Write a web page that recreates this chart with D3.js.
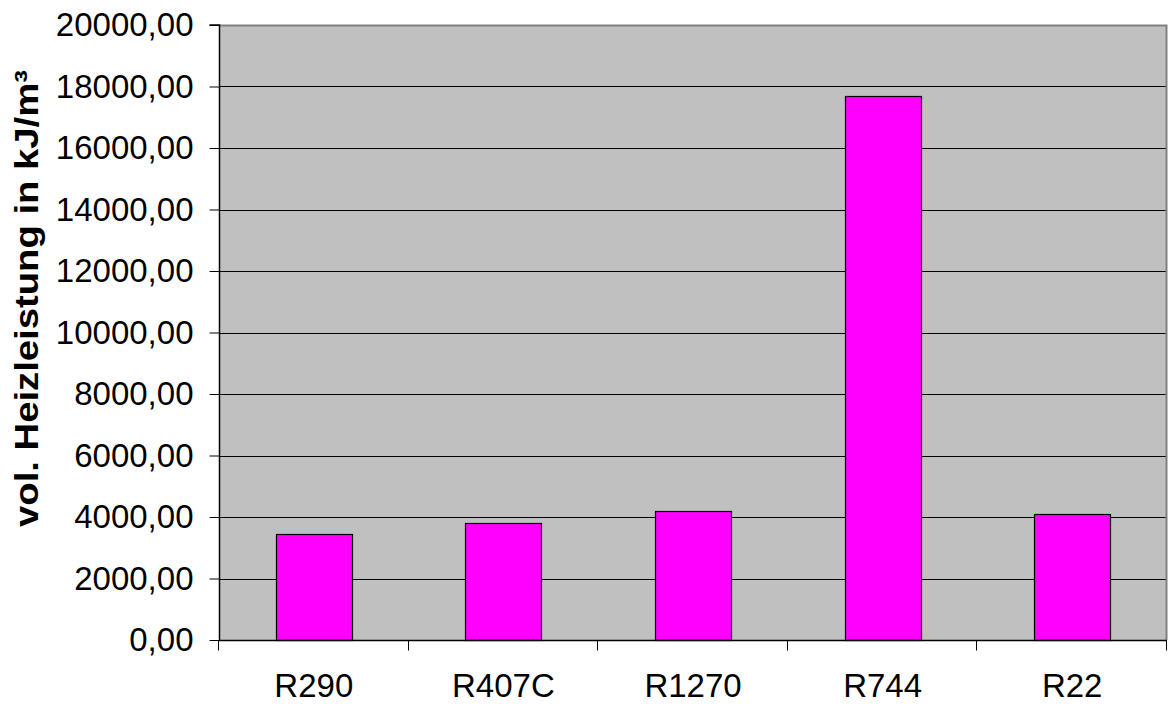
<!DOCTYPE html>
<html>
<head>
<meta charset="utf-8">
<script src="https://cdn.jsdelivr.net/npm/d3@7"></script>
<style>
  html, body { margin: 0; padding: 0; background: #ffffff; }
  svg { display: block; }
  text { font-family: "Liberation Sans", Arial, sans-serif; fill: #000; }
</style>
</head>
<body>
<svg id="chart" width="1168" height="704"></svg>
<script>
// Refrigerants compared by volumetric heating capacity
const categories = ["R290", "R407C", "R1270", "R744", "R22"];
const heatingCapacity = [3460, 3795, 4205, 17700, 4090];
const yTicks = [0, 2000, 4000, 6000, 8000, 10000, 12000, 14000, 16000, 18000, 20000];
const yLabel = "vol. Heizleistung in kJ/m³";

const W = 1168, H = 704;
const plot = { left: 219, right: 1167, top: 25, bottom: 640 };

const svg = d3.select("#chart");

// German number format: decimal comma, no grouping
const deFormat = d3.formatLocale({ decimal: ",", thousands: "", grouping: [3], currency: ["", " €"] }).format(".2f");

const x = d3.scaleBand()
  .domain(categories)
  .range([plot.left, plot.right])
  .paddingInner(0)
  .paddingOuter(0);

const y = d3.scaleLinear()
  .domain([0, 20000])
  .range([plot.bottom, plot.top]);

// plot background
svg.append("rect")
  .attr("x", plot.left).attr("y", plot.top)
  .attr("width", plot.right - plot.left)
  .attr("height", plot.bottom - plot.top)
  .attr("fill", "#c0c0c0");

// horizontal gridlines
svg.append("g")
  .selectAll("line")
  .data(yTicks.filter(d => d > 0 && d < 20000))
  .join("line")
  .attr("x1", plot.left).attr("x2", plot.right)
  .attr("y1", d => Math.round(y(d)) + 0.5)
  .attr("y2", d => Math.round(y(d)) + 0.5)
  .attr("stroke", "#000")
  .attr("stroke-width", 1);

// plot frame (top and right in grey)
svg.append("path")
  .attr("d", `M${plot.left},${plot.top + 0.5}H${plot.right - 0.5}V${plot.bottom}`)
  .attr("fill", "none")
  .attr("stroke", "#808080")
  .attr("stroke-width", 2);

// bars
svg.append("g")
  .selectAll("rect")
  .data(categories.map((c, i) => ({ c, v: heatingCapacity[i] })))
  .join("rect")
  .attr("x", d => Math.round(x(d.c) + x.bandwidth() * 0.3) + 0.5)
  .attr("width", Math.round(x.bandwidth() * 0.4))
  .attr("y", d => Math.round(y(d.v)) + 0.5)
  .attr("height", d => Math.round(y(0)) - Math.round(y(d.v)))
  .attr("fill", "#ff00ff")
  .attr("stroke", "#000")
  .attr("stroke-width", 1.2);

// y axis
const yAxis = d3.axisLeft(y)
  .tickValues(yTicks)
  .tickSize(10)
  .tickPadding(16)
  .tickFormat(deFormat);

const gy = svg.append("g")
  .attr("transform", `translate(${plot.left + 0.5},0)`)
  .call(yAxis);
gy.select(".domain").attr("stroke", "#000").attr("stroke-width", 1.5)
  .attr("d", `M-10,${plot.top}H0V${plot.bottom}`);
gy.selectAll(".tick line").attr("stroke", "#000");
gy.selectAll(".tick text")
  .attr("font-size", 33)
  .attr("font-family", "'Liberation Sans', Arial, sans-serif")
  .attr("fill", "#000");

// x axis: ticks at category boundaries
const gx = svg.append("g")
  .attr("transform", `translate(0,${plot.bottom + 0.5})`);
gx.append("line")
  .attr("x1", plot.left).attr("x2", plot.right)
  .attr("stroke", "#000").attr("stroke-width", 1.5);
gx.selectAll("line.bound")
  .data(categories.map(c => x(c)).concat([plot.right]))
  .join("line")
  .attr("class", "bound")
  .attr("x1", d => Math.round(d) - 0.5).attr("x2", d => Math.round(d) - 0.5)
  .attr("y1", 0).attr("y2", 10)
  .attr("stroke", "#000");
gx.selectAll("text")
  .data(categories)
  .join("text")
  .attr("x", d => x(d) + x.bandwidth() / 2)
  .attr("y", 56)
  .attr("text-anchor", "middle")
  .attr("font-size", 33)
  .text(d => d);

// y axis title
svg.append("text")
  .attr("transform", `translate(38,${(70 + 527) / 2}) rotate(-90)`)
  .attr("text-anchor", "middle")
  .attr("font-size", 33)
  .attr("font-weight", "bold")
  .attr("textLength", 457)
  .attr("lengthAdjust", "spacingAndGlyphs")
  .text(yLabel);
</script>
</body>
</html>
